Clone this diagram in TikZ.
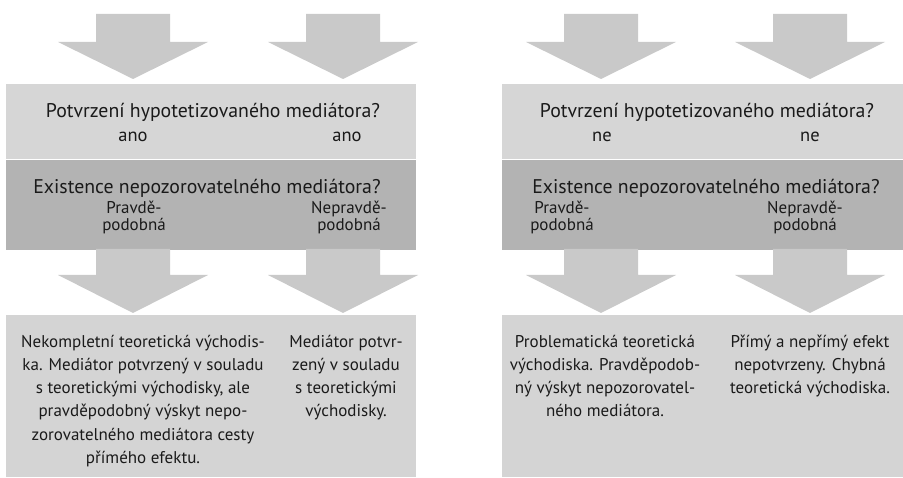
\documentclass[tikz,border=0pt]{standalone}
\usepackage{fontspec}
\setmainfont{PT Sans}
\usetikzlibrary{positioning}

\definecolor{qlight}{HTML}{D6D6D6}
\definecolor{qdark}{HTML}{B3B3B3}
\definecolor{resbox}{HTML}{D4D4D4}
\definecolor{arrowgray}{HTML}{C9C9C9}
\definecolor{ink}{HTML}{1A1A1A}

\begin{document}
\begin{tikzpicture}[x=1pt, y=-1pt,
	panel/.style={rectangle, draw=none, inner sep=0pt, anchor=north west},
	lbl/.style={anchor=base, inner sep=0pt, text=ink, align=center, font=\fontsize{17}{23.3}\selectfont},
	question/.style={lbl, font=\fontsize{19.8}{23}\selectfont},
	answer/.style={lbl, font=\fontsize{18.5}{23}\selectfont},
	tight/.style={lbl, font=\fontsize{17}{17}\selectfont}]
	\useasboundingbox (0,0) rectangle (903,478);

	% Panels
	\node[panel, fill=qlight, minimum width=410, minimum height=75] (qoneL) at (6,84) {};
	\node[panel, fill=qdark, minimum width=410, minimum height=90] (qtwoL) at (qoneL.south west) {};
	\node[panel, fill=resbox, minimum width=410, minimum height=162] (resL) at (6,315) {};
	\node[panel, fill=qlight, minimum width=401, minimum height=75] (qoneR) at (502,84) {};
	\node[panel, fill=qdark, minimum width=401, minimum height=90] (qtwoR) at (qoneR.south west) {};
	\node[panel, fill=resbox, minimum width=401, minimum height=162] (resR) at (502,315) {};

	% Block arrows
	\foreach \c in {133,343,601,810} {
		\fill[arrowgray] (\c-37,14) -- (\c+37,14) -- (\c+37,42) -- (\c+75,42) -- (\c,79) -- (\c-75,42) -- (\c-37,42) -- cycle;
		\fill[arrowgray] (\c-37,249) -- (\c+37,249) -- (\c+37,275) -- (\c+75,275) -- (\c,313) -- (\c-75,275) -- (\c-37,275) -- cycle;
	}

	% Left questions
	\node[question] (hypL) at (213,118) {Potvrzení hypotetizovaného mediátora?};
	\node[answer] (anoA) at (133,142) {ano};
	\node[answer] (anoB) at (347,142) {ano};
	\node[question] (existL) at (207,194) {Existence nepozorovatelného mediátora?};
	\node[tight] (pravL) at (134,231) {Pravdě-\\podobná};
	\node[tight] (nepravL) at (349,231) {Nepravdě-\\podobná};

	% Right questions
	\node[question] (hypR) at (707,118) {Potvrzení hypotetizovaného mediátora?};
	\node[answer] (neA) at (602,142) {ne};
	\node[answer] (neB) at (810,142) {ne};
	\node[question] (existR) at (706,194) {Existence nepozorovatelného mediátora?};
	\node[tight] (pravR) at (562,231) {Pravdě-\\podobná};
	\node[tight] (nepravR) at (805,231) {Nepravdě-\\podobná};

	% Results (anchored at the last baseline)
	\node[lbl] (incomplete) at (143,463.5) {Nekompletní teoretická východis-\\ka. Mediátor potvrzený v souladu\\s teoretickými východisky, ale\\pravděpodobný výskyt nepo-\\zorovatelného mediátora cesty\\přímého efektu.};
	\node[lbl] (confirmed) at (346,417) {Mediátor potvr-\\zený v souladu\\s teoretickými\\východisky.};
	\node[lbl] (problem) at (605,417) {Problematická teoretická\\východiska. Pravděpodob-\\ný výskyt nepozorovatel-\\ného mediátora.};
	\node[lbl] (wrong) at (810,393.6) {Přímý a nepřímý efekt\\nepotvrzeny. Chybná\\teoretická východiska.};
\end{tikzpicture}
\end{document}
